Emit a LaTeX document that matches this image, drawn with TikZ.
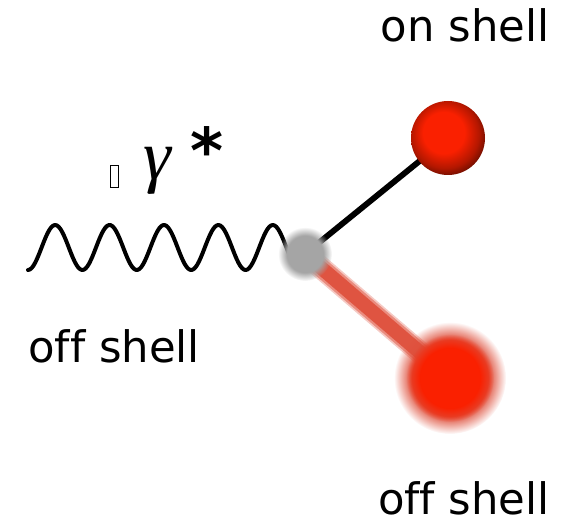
\documentclass[tikz,border=0pt]{standalone}
\usepackage{fontspec}
\setmainfont[Ligatures=NoCommon]{DejaVu Sans}
\newfontfamily\greekfont{Liberation Serif}
\usetikzlibrary{fadings, positioning}
\definecolor{ballred}{RGB}{250,32,0}
\definecolor{smearred}{RGB}{222,78,58}
\definecolor{vertexgray}{RGB}{165,165,165}
\pgfdeclareradialshading{redball}{\pgfqpoint{-4bp}{5bp}}{color(0bp)=(ballred); color(14bp)=(ballred); color(23bp)=(ballred!72!black); color(31bp)=(ballred!30!black); color(50bp)=(black)}
\pgfdeclareradialshading{softballshade}{\pgfpointorigin}{color(0bp)=(white); color(17bp)=(white); color(25bp)=(black); color(50bp)=(black)}
\pgfdeclareradialshading{softdotshade}{\pgfpointorigin}{color(0bp)=(white); color(17bp)=(white); color(25bp)=(black); color(50bp)=(black)}
\pgfdeclarefading{softball}{\pgfuseshading{softballshade}}
\pgfdeclarefading{softdot}{\pgfuseshading{softdotshade}}
\tikzstyle{photon} = [line width=3.4pt, line cap=round, line join=round]
\tikzstyle{onleg} = [line width=5pt, black]
\tikzstyle{offleg} = [smearred, line cap=round]
\tikzstyle{shell} = [font=\fontsize{37}{44}\selectfont, inner sep=0pt]
\tikzstyle{tofu} = [draw, line width=0.6pt, minimum width=2.4mm, minimum height=6.6mm, inner sep=0pt]

\begin{document}
\begin{tikzpicture}[x=0.3mm, y=-0.3mm]
\useasboundingbox (0,0) rectangle (571,524);
\coordinate (vertex) at (305,254);
\coordinate (onball) at (448,138);
\coordinate (offball) at (450,378);

% virtual photon
\draw[photon] plot[domain=0:4.93, samples=150] ({28+54.4*\x},{247.5+22.5*cos(360*\x)});

% outgoing legs
\draw[onleg] (vertex) -- (onball);
\foreach \w/\o in {19/0.3, 16/0.5, 12/0.9}
  \draw[offleg, line width=\w pt, opacity=\o] (vertex) -- (offball);

% off shell particle (smeared)
\fill[smearred, path fading=softball] (offball) circle (56);
\fill[ballred, path fading=softball] (offball) circle (44);

% on shell particle
\shade[shading=redball] (onball) circle (37);

% vertex blob
\fill[vertexgray, path fading=softdot] (vertex) circle (27);

% labels
\node (tofu) [tofu] at (114,176) {};
\node (gamma) [anchor=base, font=\greekfont\itshape\fontsize{60}{66}\selectfont, inner sep=0pt] at (157,180) {γ};
\node (star) [font=\bfseries\fontsize{54}{60}\selectfont, inner sep=0pt] at (207,150) {*};
\node (onlabel) [shell, anchor=base] at (465,42) {on shell};
\node (offlabel) [shell, anchor=base west] at (28,362) {off shell};
\node (offlabel2) [shell, anchor=base east] at (550,514) {off shell};
\end{tikzpicture}
\end{document}
